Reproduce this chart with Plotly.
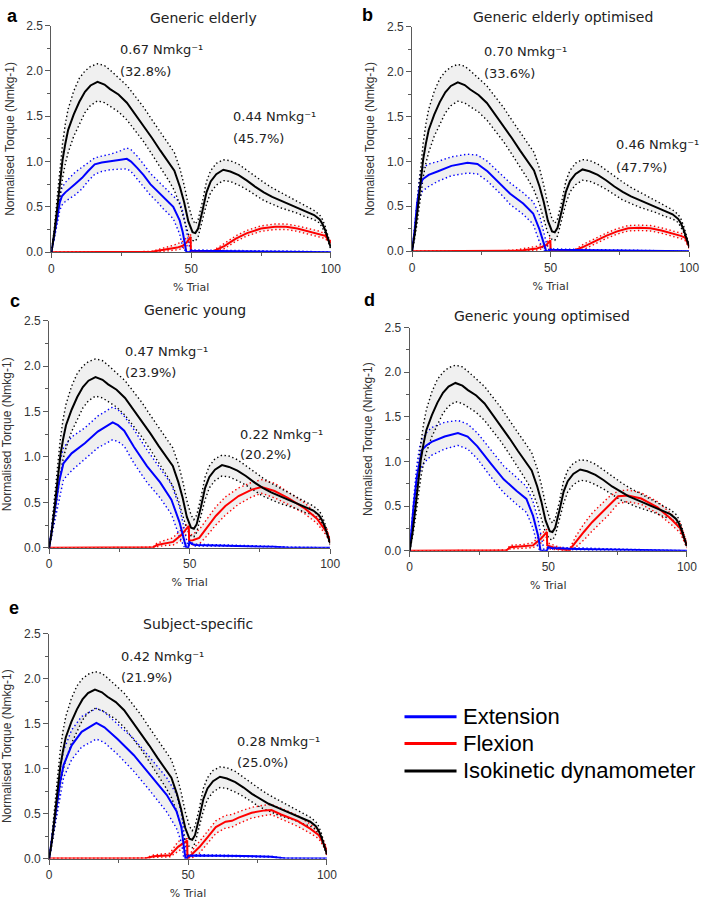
import plotly.graph_objects as go

# ---------------- data ----------------
# Isokinetic dynamometer (same in every panel)
X_BLK = [0, 1, 2, 3, 4, 5, 6, 8, 10, 12, 14, 16.5, 19, 21, 24, 27, 30, 33, 36, 39, 42, 44, 46, 47.5, 49,
         50.5, 51.5, 52.5, 54, 55.5, 57, 59, 61.5, 64, 67, 70, 73, 76, 79, 82, 85, 88, 91, 94, 96, 97, 98, 99, 100]
BLK_MEAN = [0, 0.2, 0.46, 0.75, 1.02, 1.2, 1.35, 1.52, 1.66, 1.77, 1.84, 1.88, 1.85, 1.80, 1.74, 1.65, 1.52, 1.40,
            1.26, 1.12, 0.98, 0.90, 0.72, 0.55, 0.34, 0.22, 0.21, 0.26, 0.45, 0.66, 0.78, 0.86, 0.91, 0.89, 0.85,
            0.79, 0.72, 0.66, 0.61, 0.57, 0.53, 0.49, 0.45, 0.41, 0.36, 0.31, 0.24, 0.15, 0.05]
BLK_UP = [0, 0.25, 0.58, 0.9, 1.2, 1.42, 1.58, 1.78, 1.92, 2.0, 2.05, 2.08, 2.06, 2.01, 1.92, 1.84, 1.72, 1.60,
          1.46, 1.33, 1.2, 1.1, 0.92, 0.74, 0.52, 0.36, 0.31, 0.36, 0.55, 0.78, 0.9, 0.98, 1.02, 1.01, 0.97,
          0.9, 0.83, 0.77, 0.71, 0.66, 0.61, 0.56, 0.51, 0.46, 0.41, 0.36, 0.28, 0.18, 0.07]
BLK_LO = [0, 0.15, 0.35, 0.6, 0.82, 0.98, 1.1, 1.28, 1.42, 1.54, 1.62, 1.67, 1.65, 1.61, 1.55, 1.46, 1.34, 1.22,
          1.08, 0.94, 0.79, 0.68, 0.52, 0.36, 0.2, 0.13, 0.12, 0.17, 0.34, 0.53, 0.66, 0.74, 0.79, 0.78, 0.74,
          0.69, 0.63, 0.57, 0.53, 0.49, 0.46, 0.43, 0.39, 0.36, 0.32, 0.27, 0.21, 0.12, 0.03]

# a  Generic elderly
A_EXT_X = [0, 1, 2, 3, 3.8, 5, 8.4, 11, 13, 15.5, 18, 21, 24.8, 27, 28.5, 30.7, 33, 35.4, 38, 40, 43.6, 45.9, 47,
           48.3, 49.5, 50, 50.5, 60, 70, 80, 90, 100]
A_EXT_M = [0, 0.18, 0.38, 0.55, 0.62, 0.66, 0.75, 0.82, 0.89, 0.97, 0.99, 1.0, 1.02, 1.03, 1.0, 0.93, 0.85, 0.75,
           0.67, 0.6, 0.5, 0.35, 0.22, 0.0, 0.0, 0.02, 0.015, 0.012, 0.01, 0.008, 0.005, 0.0]
A_EXT_U = [0, 0.22, 0.45, 0.63, 0.71, 0.77, 0.88, 0.94, 0.99, 1.04, 1.06, 1.08, 1.12, 1.15, 1.13, 1.06, 0.97, 0.87,
           0.79, 0.73, 0.63, 0.55, 0.45, 0.25, 0.05, 0.03, 0.025, 0.02, 0.018, 0.015, 0.01, 0.0]
A_EXT_L = [0, 0.14, 0.3, 0.46, 0.52, 0.56, 0.63, 0.7, 0.78, 0.86, 0.89, 0.91, 0.92, 0.92, 0.89, 0.81, 0.73, 0.63,
           0.55, 0.48, 0.37, 0.2, 0.05, 0.0, 0.0, 0.01, 0.005, 0.005, 0.004, 0.003, 0.0, 0.0]
A_FLX_X = [0, 12, 20, 30, 36, 38, 40, 43, 45, 47, 48.5, 49.8, 49.9, 52, 56, 57.6, 62, 66, 70, 75, 80, 84, 88, 92,
           96, 98, 100]
A_FLX_M = [0, 0, 0.003, 0.003, 0.005, 0.015, 0.025, 0.04, 0.05, 0.07, 0.11, 0.17, 0.0, 0.0, 0.0, 0.005, 0.07,
           0.15, 0.21, 0.26, 0.28, 0.28, 0.26, 0.23, 0.2, 0.18, 0.1]
A_FLX_U = [0, 0, 0.003, 0.003, 0.01, 0.03, 0.045, 0.07, 0.09, 0.12, 0.16, 0.2, 0.0, 0.0, 0.0, 0.01, 0.1, 0.18,
           0.24, 0.29, 0.31, 0.31, 0.29, 0.26, 0.23, 0.2, 0.12]
A_FLX_L = [0, 0, 0.003, 0.003, 0.002, 0.005, 0.01, 0.02, 0.025, 0.04, 0.07, 0.13, 0.0, 0.0, 0.0, 0.0, 0.04,
           0.12, 0.18, 0.23, 0.25, 0.25, 0.23, 0.2, 0.17, 0.15, 0.08]

# b  Generic elderly optimised
B_EXT_X = [0, 1, 1.8, 2.8, 3.8, 6, 9.4, 14.2, 20, 23.6, 27.2, 31.9, 35.4, 40.1, 43.7, 46, 47.8, 48.4, 49.5, 50,
           50.5, 60, 70, 80, 90, 100]
B_EXT_M = [0, 0.25, 0.53, 0.72, 0.8, 0.85, 0.89, 0.95, 0.985, 0.97, 0.89, 0.75, 0.64, 0.53, 0.42, 0.24, 0.04, 0.0,
           0.0, 0.02, 0.015, 0.012, 0.01, 0.008, 0.005, 0.0]
B_EXT_U = [0, 0.3, 0.62, 0.84, 0.93, 0.97, 1.0, 1.05, 1.08, 1.07, 1.0, 0.86, 0.76, 0.65, 0.55, 0.4, 0.18, 0.1, 0.0,
           0.03, 0.025, 0.02, 0.018, 0.015, 0.01, 0.0]
B_EXT_L = [0, 0.2, 0.44, 0.6, 0.67, 0.72, 0.78, 0.84, 0.87, 0.86, 0.78, 0.64, 0.52, 0.41, 0.3, 0.1, 0.0, 0.0, 0.0,
           0.01, 0.005, 0.005, 0.004, 0.003, 0.0, 0.0]
B_FLX_X = [0, 12, 20, 30, 37, 40, 43, 45, 47, 48.5, 49.9, 50, 52, 56, 58.4, 62, 66, 70, 74, 78, 82, 86, 90, 94, 97,
           98.5, 100]
B_FLX_M = [0, 0, 0.003, 0.003, 0.005, 0.01, 0.02, 0.03, 0.05, 0.07, 0.12, 0.0, 0.0, 0.0, 0.005, 0.05, 0.11,
           0.17, 0.22, 0.255, 0.26, 0.255, 0.23, 0.2, 0.17, 0.15, 0.05]
B_FLX_U = [0, 0, 0.003, 0.003, 0.01, 0.025, 0.04, 0.055, 0.08, 0.1, 0.15, 0.0, 0.0, 0.0, 0.01, 0.08, 0.14, 0.2,
           0.25, 0.285, 0.29, 0.285, 0.26, 0.23, 0.2, 0.18, 0.07]
B_FLX_L = [0, 0, 0.003, 0.003, 0.002, 0.004, 0.008, 0.012, 0.025, 0.04, 0.09, 0.0, 0.0, 0.0, 0.0, 0.02, 0.08,
           0.14, 0.19, 0.225, 0.23, 0.225, 0.2, 0.17, 0.14, 0.12, 0.03]

# c  Generic young
C_EXT_X = [0, 1, 2.2, 3.5, 5.1, 8, 12.7, 17.3, 22.6, 24.5, 26.7, 30.2, 34.8, 39.5, 43.5, 46.4, 48.2, 48.8, 49.5,
           49.9, 51, 52, 60, 70, 80, 85, 100]
C_EXT_M = [0, 0.2, 0.46, 0.72, 0.93, 1.04, 1.15, 1.28, 1.38, 1.35, 1.29, 1.11, 0.9, 0.72, 0.53, 0.28, 0.065, 0.0,
           0.0, 0.065, 0.04, 0.03, 0.025, 0.02, 0.01, 0.0, 0.0]
C_EXT_U = [0, 0.25, 0.6, 0.9, 1.1, 1.22, 1.32, 1.45, 1.55, 1.52, 1.45, 1.3, 1.08, 0.88, 0.7, 0.45, 0.2, 0.1, 0.0,
           0.08, 0.05, 0.04, 0.03, 0.025, 0.015, 0.005, 0.0]
C_EXT_L = [0, 0.15, 0.34, 0.55, 0.75, 0.85, 0.98, 1.1, 1.19, 1.17, 1.12, 0.93, 0.72, 0.55, 0.37, 0.12, 0.0, 0.0,
           0.0, 0.05, 0.03, 0.02, 0.02, 0.015, 0.005, 0.0, 0.0]
C_FLX_X = [0, 18, 25, 30, 37, 38.3, 41, 44.1, 47, 48.8, 49.7, 49.8, 51.1, 53.4, 55.8, 59.3, 62.7, 67.4, 72.1, 75.6,
           80.2, 84.9, 90.7, 95.3, 98.8, 100]
C_FLX_M = [0, 0, 0.003, 0.003, 0.005, 0.03, 0.05, 0.065, 0.14, 0.21, 0.24, 0.08, 0.083, 0.108, 0.21, 0.35,
           0.46, 0.57, 0.64, 0.67, 0.625, 0.55, 0.44, 0.32, 0.17, 0.065]
C_FLX_U = [0, 0, 0.003, 0.003, 0.01, 0.05, 0.08, 0.11, 0.2, 0.26, 0.28, 0.13, 0.15, 0.2, 0.3, 0.45, 0.56,
           0.66, 0.72, 0.75, 0.71, 0.62, 0.5, 0.37, 0.21, 0.09]
C_FLX_L = [0, 0, 0.003, 0.003, 0.002, 0.01, 0.025, 0.03, 0.08, 0.15, 0.19, 0.03, 0.03, 0.04, 0.12, 0.25, 0.36,
           0.48, 0.56, 0.6, 0.55, 0.48, 0.38, 0.27, 0.13, 0.04]

# d  Generic young optimised
D_EXT_X = [0, 1.4, 2.6, 3.5, 4.4, 6, 7.9, 12.6, 17.4, 20.9, 24.4, 29.2, 33.9, 38.6, 42.1, 44.5, 46.3, 47.2, 48.5,
           49.5, 50, 51, 60, 70, 80, 90, 100]
D_EXT_M = [0, 0.5, 0.83, 1.0, 1.13, 1.18, 1.22, 1.28, 1.32, 1.28, 1.17, 0.98, 0.8, 0.67, 0.58, 0.39, 0.17, 0.0,
           0.0, 0.0, 0.04, 0.03, 0.02, 0.015, 0.01, 0.005, 0.0]
D_EXT_U = [0, 0.58, 0.96, 1.15, 1.25, 1.32, 1.38, 1.44, 1.46, 1.42, 1.32, 1.13, 0.95, 0.82, 0.72, 0.55, 0.35, 0.2,
           0.0, 0.0, 0.05, 0.04, 0.03, 0.02, 0.015, 0.008, 0.0]
D_EXT_L = [0, 0.42, 0.7, 0.85, 0.95, 1.01, 1.07, 1.14, 1.18, 1.14, 1.03, 0.83, 0.65, 0.52, 0.43, 0.25, 0.03, 0.0,
           0.0, 0.0, 0.03, 0.02, 0.01, 0.01, 0.005, 0.0, 0.0]
D_FLX_X = [0, 15, 20, 30, 35, 36.2, 41, 44.5, 47.5, 49.5, 49.6, 50.5, 53, 57.5, 59.9, 62.8, 65.8, 71.7, 75.2,
           78.7, 83.5, 89.4, 94.1, 97.6, 100]
D_FLX_M = [0, 0, 0.003, 0.003, 0.005, 0.04, 0.05, 0.06, 0.14, 0.21, 0.06, 0.05, 0.025, 0.003, 0.1, 0.21, 0.32,
           0.5, 0.61, 0.62, 0.585, 0.485, 0.36, 0.25, 0.06]
D_FLX_U = [0, 0, 0.003, 0.003, 0.01, 0.06, 0.07, 0.09, 0.19, 0.24, 0.09, 0.08, 0.05, 0.01, 0.16, 0.3, 0.42,
           0.6, 0.67, 0.68, 0.65, 0.55, 0.42, 0.3, 0.09]
D_FLX_L = [0, 0, 0.003, 0.003, 0.002, 0.02, 0.03, 0.035, 0.09, 0.16, 0.03, 0.02, 0.01, 0.0, 0.04, 0.12, 0.22,
           0.4, 0.53, 0.55, 0.52, 0.42, 0.3, 0.2, 0.03]

# e  Subject-specific
E_EXT_X = [0, 1.4, 2.8, 4, 5.2, 8.1, 11.7, 17, 19.9, 24.6, 30.5, 36.4, 42.3, 45.8, 47.6, 48.5, 49.1, 49.6, 50, 51,
           60, 70, 80, 85, 100]
E_EXT_M = [0, 0.3, 0.64, 0.86, 1.04, 1.26, 1.41, 1.51, 1.46, 1.33, 1.15, 0.93, 0.71, 0.53, 0.35, 0.13, 0.0, 0.0,
           0.03, 0.035, 0.033, 0.03, 0.02, 0.0, 0.0]
E_EXT_U = [0, 0.36, 0.76, 1.0, 1.2, 1.43, 1.58, 1.67, 1.63, 1.5, 1.33, 1.12, 0.9, 0.72, 0.5, 0.3, 0.15, 0.0, 0.04,
           0.045, 0.04, 0.035, 0.025, 0.005, 0.0]
E_EXT_L = [0, 0.24, 0.52, 0.72, 0.9, 1.1, 1.24, 1.33, 1.29, 1.16, 0.97, 0.75, 0.52, 0.34, 0.18, 0.0, 0.0, 0.0,
           0.02, 0.025, 0.025, 0.02, 0.015, 0.0, 0.0]
E_FLX_X = [0, 15, 20, 30, 35, 37.6, 43.5, 46.4, 48.8, 49.7, 49.8, 51.7, 54.1, 57, 60, 63.5, 65.8, 68.2, 72.9,
           77.6, 80, 83.5, 89.4, 94.1, 97.1, 99.4, 100]
E_FLX_M = [0, 0, 0.003, 0.003, 0.005, 0.026, 0.036, 0.13, 0.18, 0.2, 0.0, 0.055, 0.128, 0.237, 0.35, 0.41, 0.42,
           0.456, 0.51, 0.536, 0.54, 0.49, 0.42, 0.33, 0.26, 0.13, 0.05]
E_FLX_U = [0, 0, 0.003, 0.003, 0.01, 0.04, 0.06, 0.19, 0.22, 0.22, 0.0, 0.1, 0.19, 0.3, 0.42, 0.48, 0.49, 0.52,
           0.57, 0.595, 0.6, 0.56, 0.48, 0.38, 0.3, 0.16, 0.07]
E_FLX_L = [0, 0, 0.003, 0.003, 0.002, 0.012, 0.02, 0.08, 0.13, 0.15, 0.0, 0.01, 0.06, 0.17, 0.28, 0.34, 0.35,
           0.39, 0.45, 0.48, 0.49, 0.44, 0.36, 0.28, 0.22, 0.1, 0.03]

PANEL_LETTERS = ["a", "b", "c", "d", "e"]
PANEL_TITLES = ["Generic elderly", "Generic elderly optimised", "Generic young", "Generic young optimised",
                "Subject-specific"]
PEAK_ERRORS = [("0.67", "32.8%", "0.44", "45.7%"), ("0.70", "33.6%", "0.46", "47.7%"),
               ("0.47", "23.9%", "0.22", "20.2%"), None, ("0.42", "21.9%", "0.28", "25.0%")]
UNIT = " Nmkg\u207b\u00b9"
LEGEND_NAMES = ["Extension", "Flexion", "Isokinetic dynamometer"]
X_TICKS = [0, 50, 100]
Y_TICKS = [0.0, 0.5, 1.0, 1.5, 2.0, 2.5]

EXT = [(A_EXT_X, A_EXT_M, A_EXT_U, A_EXT_L), (B_EXT_X, B_EXT_M, B_EXT_U, B_EXT_L),
       (C_EXT_X, C_EXT_M, C_EXT_U, C_EXT_L), (D_EXT_X, D_EXT_M, D_EXT_U, D_EXT_L),
       (E_EXT_X, E_EXT_M, E_EXT_U, E_EXT_L)]
FLX = [(A_FLX_X, A_FLX_M, A_FLX_U, A_FLX_L), (B_FLX_X, B_FLX_M, B_FLX_U, B_FLX_L),
       (C_FLX_X, C_FLX_M, C_FLX_U, C_FLX_L), (D_FLX_X, D_FLX_M, D_FLX_U, D_FLX_L),
       (E_FLX_X, E_FLX_M, E_FLX_U, E_FLX_L)]
BLK = (X_BLK, BLK_MEAN, BLK_UP, BLK_LO)

# ---------------- layout geometry (pixels) ----------------
W, H = 709, 902
# (x0, x100, y0px, y2.5px)
BOXES = [(49.3, 334.0, 249.0, 19.0), (416.7, 699.0, 248.0, 20.0), (47.0, 333.3, 549.3, 318.7),
         (414.3, 696.7, 552.3, 325.7), (47.0, 330.0, 865.0, 636.7)]
LETTER_POS = [(10, 9), (371, 8), (12, 299), (373, 298), (11, 610)]
TITLE_POS = [(204, 11), (570, 10), (196, 308), (549, 314), (199, 627)]
ANN_POS = [((117, 43), (117, 66), (232, 111), (232, 134)),
           ((488, 45), (488, 68), (622, 140), (622, 163)),
           ((122, 350), (122, 371), (239, 434), (239, 455)),
           None,
           ((118, 660), (118, 681), (236, 746), (236, 767))]


def px(x):
    return x / W


def py(y):
    return 1 - y / H


COL = {"ext": "#0000ff", "flx": "#ff0000", "blk": "#000000"}
FILL = "rgba(120,120,120,0.11)"
AXC = "#5a5a5a"
TXT = "#333333"
FONT_V = "DejaVu Sans"
FONT_A = "Liberation Sans, Arial"

fig = go.Figure()
layout = {}

for i in range(5):
    k = "" if i == 0 else str(i + 1)
    xa, ya = "x" + k, "y" + k
    x0, x1, y0, y1 = BOXES[i]
    layout["xaxis" + k] = dict(
        domain=[px(x0), px(x1)], range=[0, 100], anchor=ya, showgrid=False, zeroline=False,
        showline=True, linecolor=AXC, linewidth=1, ticks="outside", ticklen=5, tickwidth=1, tickcolor=AXC,
        tickvals=X_TICKS, tickfont=dict(family=FONT_A, size=12, color=TXT),
        minor=dict(tickvals=[25, 75], ticks="outside", ticklen=3, tickcolor=AXC),
        title=dict(text="% Trial", font=dict(family=FONT_V, size=11, color=TXT), standoff=8),
        fixedrange=True)
    layout["yaxis" + k] = dict(
        domain=[py(y0), py(y1)], range=[0, 2.5], anchor=xa, showgrid=False, zeroline=False,
        showline=True, linecolor=AXC, linewidth=1, ticks="outside", ticklen=5, tickwidth=1, tickcolor=AXC,
        tickvals=Y_TICKS, tickformat=".1f", tickfont=dict(family=FONT_A, size=12, color=TXT),
        minor=dict(tickvals=[0.25, 0.75, 1.25, 1.75, 2.25], ticks="outside", ticklen=3, tickcolor=AXC),
        title=dict(text="Normalised Torque (Nmkg-1)", font=dict(family=FONT_A, size=12, color=TXT), standoff=9),
        fixedrange=True)

    groups = [("flx", FLX[i]), ("ext", EXT[i]), ("blk", BLK)]
    # shaded SD bands
    for name, (gx, gm, gu, gl) in groups:
        fig.add_trace(go.Scatter(x=list(gx) + list(gx)[::-1], y=list(gu) + list(gl)[::-1], fill="toself",
                                 fillcolor=FILL, line=dict(width=0), mode="lines", xaxis=xa, yaxis=ya,
                                 hoverinfo="skip", showlegend=False))
    # dotted SD bounds
    for name, (gx, gm, gu, gl) in groups:
        for bound in (gu, gl):
            fig.add_trace(go.Scatter(x=gx, y=bound, mode="lines",
                                     line=dict(color=COL[name], width=1.4, dash="1.4px,2.6px"),
                                     xaxis=xa, yaxis=ya, hoverinfo="skip", showlegend=False))
    # means
    for name, (gx, gm, gu, gl) in groups:
        fig.add_trace(go.Scatter(x=gx, y=gm, mode="lines", line=dict(color=COL[name], width=2),
                                 xaxis=xa, yaxis=ya, showlegend=False, name=name))

annotations = []
for i in range(5):
    lx, ly = LETTER_POS[i]
    annotations.append(dict(x=px(lx), y=py(ly), xref="paper", yref="paper", text="<b>%s</b>" % PANEL_LETTERS[i],
                            showarrow=False, xanchor="center", yanchor="middle",
                            font=dict(family=FONT_A, size=18, color="#000")))
    tx, ty = TITLE_POS[i]
    annotations.append(dict(x=px(tx), y=py(ty), xref="paper", yref="paper", text=PANEL_TITLES[i],
                            showarrow=False, xanchor="center", yanchor="middle",
                            font=dict(family=FONT_V, size=14, color="#222")))
    if PEAK_ERRORS[i] is not None:
        v1, p1, v2, p2 = PEAK_ERRORS[i]
        texts = [v1 + UNIT, "(" + p1 + ")", v2 + UNIT, "(" + p2 + ")"]
        for t, (ax_, ay_) in zip(texts, ANN_POS[i]):
            annotations.append(dict(x=px(ax_), y=py(ay_), xref="paper", yref="paper", text=t, showarrow=False,
                                    xanchor="left", yanchor="middle",
                                    font=dict(family=FONT_V, size=13, color="#222")))

# legend (drawn as line samples + labels)
shapes = []
LEG_Y = [721, 748, 776]
for name, label, ly in zip(["ext", "flx", "blk"], LEGEND_NAMES, LEG_Y):
    shapes.append(dict(type="line", xref="paper", yref="paper", x0=px(409), x1=px(462), y0=py(ly), y1=py(ly),
                       line=dict(color=COL[name], width=3)))
    annotations.append(dict(x=px(467), y=py(ly), xref="paper", yref="paper", text=label, showarrow=False,
                            xanchor="left", yanchor="middle", font=dict(family=FONT_A, size=22, color="#000")))

fig.update_layout(width=W, height=H, margin=dict(l=0, r=0, t=0, b=0), paper_bgcolor="white",
                  plot_bgcolor="white", showlegend=False, annotations=annotations, shapes=shapes, **layout)

fig.write_html("out.html", config={"displayModeBar": False},
               post_script="document.body.style.margin='0';document.body.style.padding='0';"
                           "document.body.style.overflow='hidden';")
